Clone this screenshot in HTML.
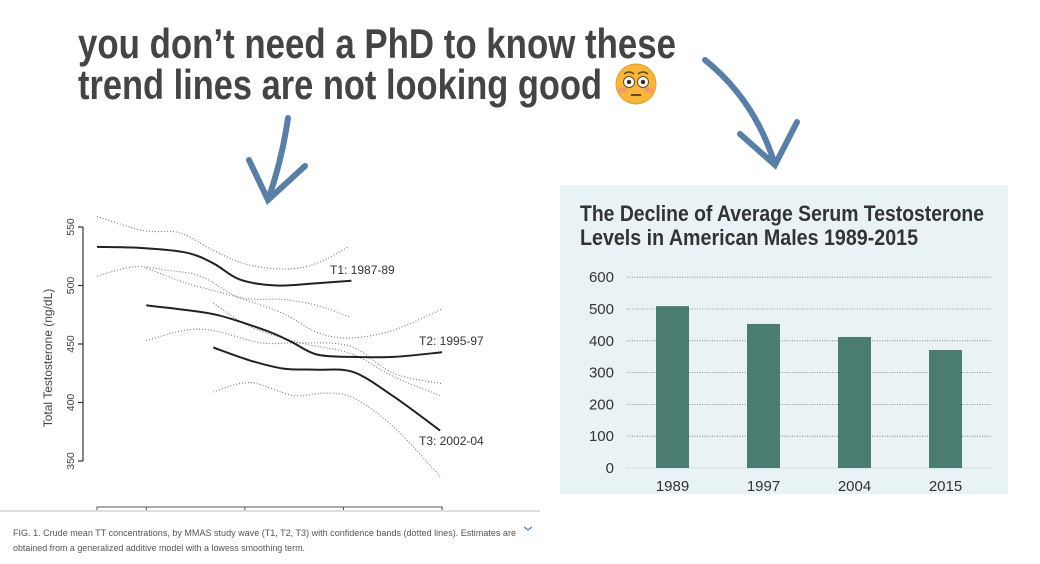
<!DOCTYPE html>
<html><head><meta charset="utf-8"><style>
html,body{margin:0;padding:0;background:#fff;width:1040px;height:564px;overflow:hidden}
svg{display:block}
</style></head><body>
<svg id="page" width="1040" height="564" viewBox="0 0 1040 564" xmlns="http://www.w3.org/2000/svg" font-family="Liberation Sans, sans-serif">
  <g fill="#444" font-weight="bold" font-size="42">
    <text x="78" y="58" textLength="598" lengthAdjust="spacingAndGlyphs">you don’t need a PhD to know these</text>
    <text x="78" y="99" textLength="524" lengthAdjust="spacingAndGlyphs">trend lines are not looking good</text>
  </g>
  <g>
    <circle cx="636" cy="84" r="20" fill="#f6b73c"/>
    <circle cx="636" cy="84" r="20" fill="none" stroke="#e89a2a" stroke-width="1"/>
    <ellipse cx="623" cy="90" rx="5" ry="3" fill="#f28a7a" opacity="0.7"/>
    <ellipse cx="649" cy="90" rx="5" ry="3" fill="#f28a7a" opacity="0.7"/>
    <circle cx="629" cy="82" r="5.5" fill="#fff" stroke="#6b4a1e" stroke-width="1"/>
    <circle cx="643" cy="82" r="5.5" fill="#fff" stroke="#6b4a1e" stroke-width="1"/>
    <circle cx="629" cy="82" r="2.2" fill="#3a2a14"/>
    <circle cx="643" cy="82" r="2.2" fill="#3a2a14"/>
    <path d="M624 74 q5 -4 10 0 M638 74 q5 -4 10 0" stroke="#6b4a1e" stroke-width="1.5" fill="none"/>
    <line x1="631" y1="95" x2="641" y2="95" stroke="#6b4a1e" stroke-width="2"/>
  </g>
  <g stroke="#5a7fa6" stroke-width="6" fill="none" stroke-linecap="round">
    <path d="M288 118 Q282 160 268 200 M249 160 L268 200 L305 166"/>
    <path d="M705 60 Q755 100 775 165 M740 134 L775 165 L797 122"/>
  </g>

  <g id="left-chart"></g>
  <line x1="0" y1="511" x2="540" y2="511" stroke="#ddd" stroke-width="2"/>
  <g fill="#555" font-size="9.6">
    <text x="13" y="536" textLength="503" lengthAdjust="spacingAndGlyphs">FIG. 1. Crude mean TT concentrations, by MMAS study wave (T1, T2, T3) with confidence bands (dotted lines). Estimates are</text>
    <text x="13" y="551" textLength="292" lengthAdjust="spacingAndGlyphs">obtained from a generalized additive model with a lowess smoothing term.</text>
  </g>
  <path d="M524 527 l4 3 l4 -3" stroke="#4a7bc0" stroke-width="1.2" fill="none"/>

  <rect x="560" y="185" width="448" height="309" fill="#e9f3f5"/>
  <g fill="#333" font-weight="bold" font-size="22">
    <text x="580" y="221" textLength="404" lengthAdjust="spacingAndGlyphs">The Decline of Average Serum Testosterone</text>
    <text x="580" y="245" textLength="338" lengthAdjust="spacingAndGlyphs">Levels in American Males 1989-2015</text>
  </g>
  <g id="bar-chart"></g>
</svg>
<script>
// ---- Left chart data (age vs total testosterone) ----
const t1Age = [40, 44.7, 49.1, 51.8, 54.5, 58.2, 62.3, 65.8];
const t1Val = [533, 532, 528, 519, 505, 500, 502, 504];
const t1UpAge = [40, 44.7, 48.4, 51.8, 55.2, 59.2, 62.3, 65.5];
const t1UpVal = [559, 547, 545, 530, 518, 514, 519, 533];
const t1LoAge = [40, 43.7, 47.1, 50.5, 54.5, 58.9, 62.3, 65.7];
const t1LoVal = [508, 516, 513, 508, 490, 488, 483, 473];
const t2Age = [45, 49.1, 52.1, 54.9, 57.9, 59.9, 62.3, 65.7, 70.1, 75];
const t2Val = [483, 479, 475, 468, 459, 451, 441, 439, 439, 443];
const t2UpAge = [45, 49.1, 54.2, 58.9, 62.3, 65.7, 70.1, 75];
const t2UpVal = [515, 502, 490, 476, 460, 455, 462, 480];
const t2LoAge = [45, 49.1, 52.1, 56.6, 60.6, 65.7, 70.1, 75];
const t2LoVal = [453, 462, 461, 451, 451, 448, 425, 416];
const t3Age = [51.8, 55.5, 58.9, 62.3, 66.0, 70.1, 74.8];
const t3Val = [447, 436, 429, 428, 426, 405, 376];
const t3UpAge = [51.8, 55.5, 60.6, 65.7, 70.1, 74.8];
const t3UpVal = [485, 465, 451, 442, 422, 406];
const t3LoAge = [51.8, 55.5, 59.9, 63.0, 66.0, 70.1, 74.8];
const t3LoVal = [409, 417, 406, 408, 404, 379, 337];
const yTicks = [350, 400, 450, 500, 550];
const xTicks = [40, 45, 55, 65, 75];
const waveLabels = ["T1: 1987-89", "T2: 1995-97", "T3: 2002-04"];

// ---- Right chart data ----
const barYears = ["1989", "1997", "2004", "2015"];
const barValues = [509, 453, 412, 371];
const barTicks = [0, 100, 200, 300, 400, 500, 600];

const NS = "http://www.w3.org/2000/svg";
function mk(tag, attrs, parent){const e=document.createElementNS(NS,tag);for(const k in attrs)e.setAttribute(k,attrs[k]);parent.appendChild(e);return e;}

// Left chart axes
const lx = a => 97 + (a - 40) * 9.86;
const ly = v => 227 + (550 - v) * 1.17;
const L = document.getElementById('left-chart');
function smooth(xs, ys){
  const p = xs.map((a,i)=>[lx(a), ly(ys[i])]);
  let d = "M"+p[0][0].toFixed(1)+" "+p[0][1].toFixed(1);
  for(let i=0;i<p.length-1;i++){
    const p0=p[i-1]||p[i], p1=p[i], p2=p[i+1], p3=p[i+2]||p2;
    const c1x=p1[0]+(p2[0]-p0[0])/6, c1y=p1[1]+(p2[1]-p0[1])/6;
    const c2x=p2[0]-(p3[0]-p1[0])/6, c2y=p2[1]-(p3[1]-p1[1])/6;
    d+=` C${c1x.toFixed(1)} ${c1y.toFixed(1)} ${c2x.toFixed(1)} ${c2y.toFixed(1)} ${p2[0].toFixed(1)} ${p2[1].toFixed(1)}`;
  }
  return d;
}
const axis = mk('line',{x1:83,y1:ly(550),x2:83,y2:ly(350),stroke:'#333','stroke-width':1.2},L);


yTicks.forEach(v=>{
  const t = mk('line',{x1:78,y1:ly(v),x2:83,y2:ly(v),stroke:'#333','stroke-width':1.2},L);
  
  
  const tx = mk('text',{x:74,y:ly(v),'font-size':10.5,fill:'#444','text-anchor':'middle',transform:`rotate(-90 74 ${ly(v)})`},L);
  tx.textContent = v;
  
  
});
const yt = mk('text',{x:52,y:358,'font-size':12,fill:'#444','text-anchor':'middle',transform:'rotate(-90 52 358)'},L);
yt.textContent = 'Total Testosterone (ng/dL)';


// bottom axis box (cut off)
const bx = mk('path',{d:`M${lx(40)} 512 V507 H${lx(75)} V512`,stroke:'#555','stroke-width':1,fill:'none'},L);


xTicks.forEach(a=>{
  const t = mk('line',{x1:lx(a),y1:507,x2:lx(a),y2:512,stroke:'#555','stroke-width':1},L);
  
  
});
const series = [
  [t1UpAge,t1UpVal,'band','t1-upper-band'],[t1LoAge,t1LoVal,'band','t1-lower-band'],
  [t2UpAge,t2UpVal,'band','t2-upper-band'],[t2LoAge,t2LoVal,'band','t2-lower-band'],
  [t3UpAge,t3UpVal,'band','t3-upper-band'],[t3LoAge,t3LoVal,'band','t3-lower-band'],
  [t1Age,t1Val,'line','t1-line'],[t2Age,t2Val,'line','t2-line'],[t3Age,t3Val,'line','t3-line']
];
series.forEach(s=>{
  const attrs = s[2]==='band'
    ? {d:smooth(s[0],s[1]),stroke:'#777','stroke-width':1.1,'stroke-dasharray':'1 2',fill:'none'}
    : {d:smooth(s[0],s[1]),stroke:'#222','stroke-width':2,fill:'none'};
  const p = mk('path',attrs,L);
  
  
});
const labelPos = [[330,274],[419,345],[419,445]];
waveLabels.forEach((w,i)=>{
  const t = mk('text',{x:labelPos[i][0],y:labelPos[i][1],'font-size':12,fill:'#333'},L);
  t.textContent = w;
  
  
});

// Right bar chart
const B = document.getElementById('bar-chart');
const by = v => 468 - v * 0.318;
const bxc = i => 672.5 + i * 91;
barTicks.forEach(v=>{
  const g = mk('line',{x1:627,y1:by(v),x2:992,y2:by(v),stroke:v===0?'#9ab0d8':'#777','stroke-width':0.8,'stroke-dasharray':'1 1.5'},B);
  
  
  const t = mk('text',{x:614,y:by(v)+5,'font-size':15,fill:'#333','text-anchor':'end'},B);
  t.textContent = v;
  
  
});
barValues.forEach((v,i)=>{
  const r = mk('rect',{x:bxc(i)-16.5,y:by(v),width:33,height:by(0)-by(v),fill:'#4a7c72'},B);
  
  
  const t = mk('text',{x:bxc(i),y:491,'font-size':15,fill:'#333','text-anchor':'middle'},B);
  t.textContent = barYears[i];
  
  
});
</script>
</body></html>
